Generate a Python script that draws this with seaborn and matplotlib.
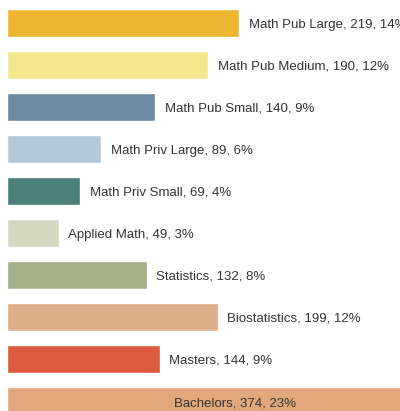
import matplotlib
matplotlib.use("Agg")
import matplotlib.pyplot as plt
import seaborn as sns
import pandas as pd

# Data
categories = ["Math Pub Large", "Math Pub Medium", "Math Pub Small", "Math Priv Large",
              "Math Priv Small", "Applied Math", "Statistics", "Biostatistics",
              "Masters", "Bachelors"]
counts = [219, 190, 140, 89, 69, 49, 132, 199, 144, 374]
percents = [14, 12, 9, 6, 4, 3, 8, 12, 9, 23]
colors = ["#EEB533", "#F4E68C", "#6E8AA2", "#B3C9DA", "#4B7F7A",
          "#D5D8C1", "#A5AF88", "#DDB08A", "#DD5A3E", "#E2A77B"]

df = pd.DataFrame({"category": categories, "count": counts, "pct": percents})

sns.set_theme(style="white")
plt.rcParams["font.family"] = ["Liberation Sans", "DejaVu Sans"]

fig = plt.figure(figsize=(4.0, 4.11), dpi=100)
ax = fig.add_axes([0, 0, 1, 1])

sns.barplot(data=df, y="category", x="count", hue="category", palette=colors,
            legend=False, width=0.667, orient="h", saturation=1, ax=ax)

# labels to the right of each bar; the widest bar gets its label inside
for i, row in df.iterrows():
    text = f"{row['category']}, {row['count']}, {row['pct']}%"
    if row["count"] > 300:
        ax.text(158, i + 0.02, text, va="center_baseline", ha="left", fontsize=9.5, color="#333333")
    else:
        ax.text(row["count"] + 9, i, text, va="center_baseline", ha="left", fontsize=9.5, color="#333333")

ax.set_xlim(-6.6, 370.8)
ax.set_ylim(9.238, -0.548)
ax.axis("off")

fig.savefig("out.png", dpi=100)
